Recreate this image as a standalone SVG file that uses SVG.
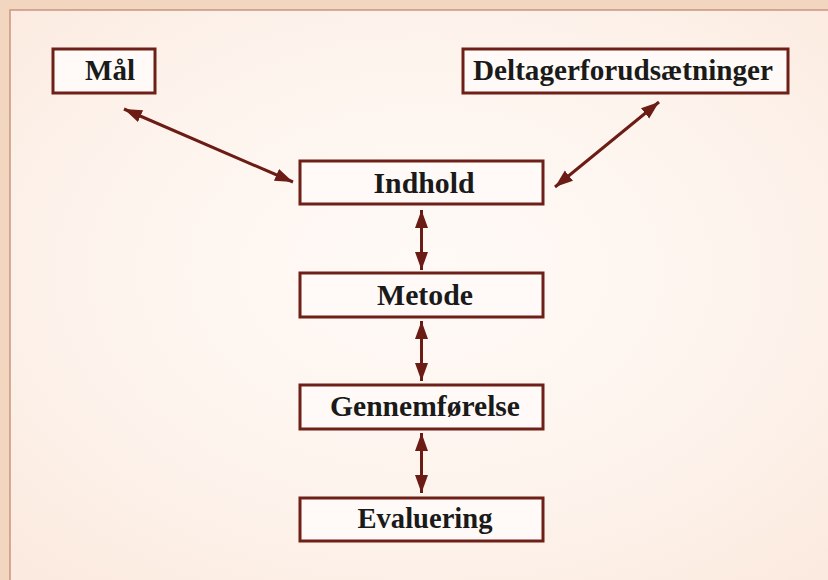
<svg xmlns="http://www.w3.org/2000/svg" width="828" height="580" viewBox="0 0 828 580">
<defs>
<radialGradient id="bg" cx="0.5" cy="0.45" r="0.7">
<stop offset="0" stop-color="#fffaf7"/>
<stop offset="0.6" stop-color="#fdf3ec"/>
<stop offset="1" stop-color="#fbeadf"/>
</radialGradient>
<marker id="ah" viewBox="0 0 10 10" refX="10" refY="5" markerWidth="6" markerHeight="6" orient="auto-start-reverse" markerUnits="strokeWidth">
<path d="M0,1.4 L10,5 L0,8.6 Z" fill="#6b1c14"/>
</marker>
</defs>
<style>
.box{fill:#fffaf7;stroke:#6e1f17;stroke-width:3}
.lbl{font-family:"Liberation Serif","DejaVu Serif",serif;font-weight:bold;font-size:30px;fill:#1a1a1a;text-anchor:middle}
.con{stroke:#6b1c14;stroke-width:3;fill:none;marker-start:url(#ah);marker-end:url(#ah)}
</style>
<rect x="0" y="0" width="828" height="580" fill="#f3d6bf"/>
<rect x="10" y="10" width="830" height="580" fill="url(#bg)" stroke="#c99580" stroke-width="1.5"/>
<g id="connectors">
<line class="con" x1="124" y1="109" x2="293" y2="182"/>
<line class="con" x1="659" y1="102" x2="555" y2="187"/>
<line class="con" x1="421.5" y1="210" x2="421.5" y2="270"/>
<line class="con" x1="421.5" y1="321" x2="421.5" y2="381"/>
<line class="con" x1="421.5" y1="433" x2="421.5" y2="493"/>
</g>
<g id="node-maal">
<rect class="box" x="53" y="49" width="102" height="44"/>
<text class="lbl" x="110" y="80" textLength="50" lengthAdjust="spacingAndGlyphs">Mål</text>
</g>
<g id="node-deltager">
<rect class="box" x="463" y="49" width="325" height="44"/>
<text class="lbl" x="623" y="80" textLength="300" lengthAdjust="spacingAndGlyphs">Deltagerforudsætninger</text>
</g>
<g id="node-indhold">
<rect class="box" x="300" y="161" width="243" height="43"/>
<text class="lbl" x="424" y="193" textLength="101" lengthAdjust="spacingAndGlyphs">Indhold</text>
</g>
<g id="node-metode">
<rect class="box" x="300" y="273" width="243" height="44"/>
<text class="lbl" x="425" y="305" textLength="96" lengthAdjust="spacingAndGlyphs">Metode</text>
</g>
<g id="node-gennemfoerelse">
<rect class="box" x="300" y="385" width="243" height="44"/>
<text class="lbl" x="425" y="416" textLength="190" lengthAdjust="spacingAndGlyphs">Gennemførelse</text>
</g>
<g id="node-evaluering">
<rect class="box" x="300" y="498" width="243" height="43"/>
<text class="lbl" x="425" y="528" textLength="135" lengthAdjust="spacingAndGlyphs">Evaluering</text>
</g>
</svg>
